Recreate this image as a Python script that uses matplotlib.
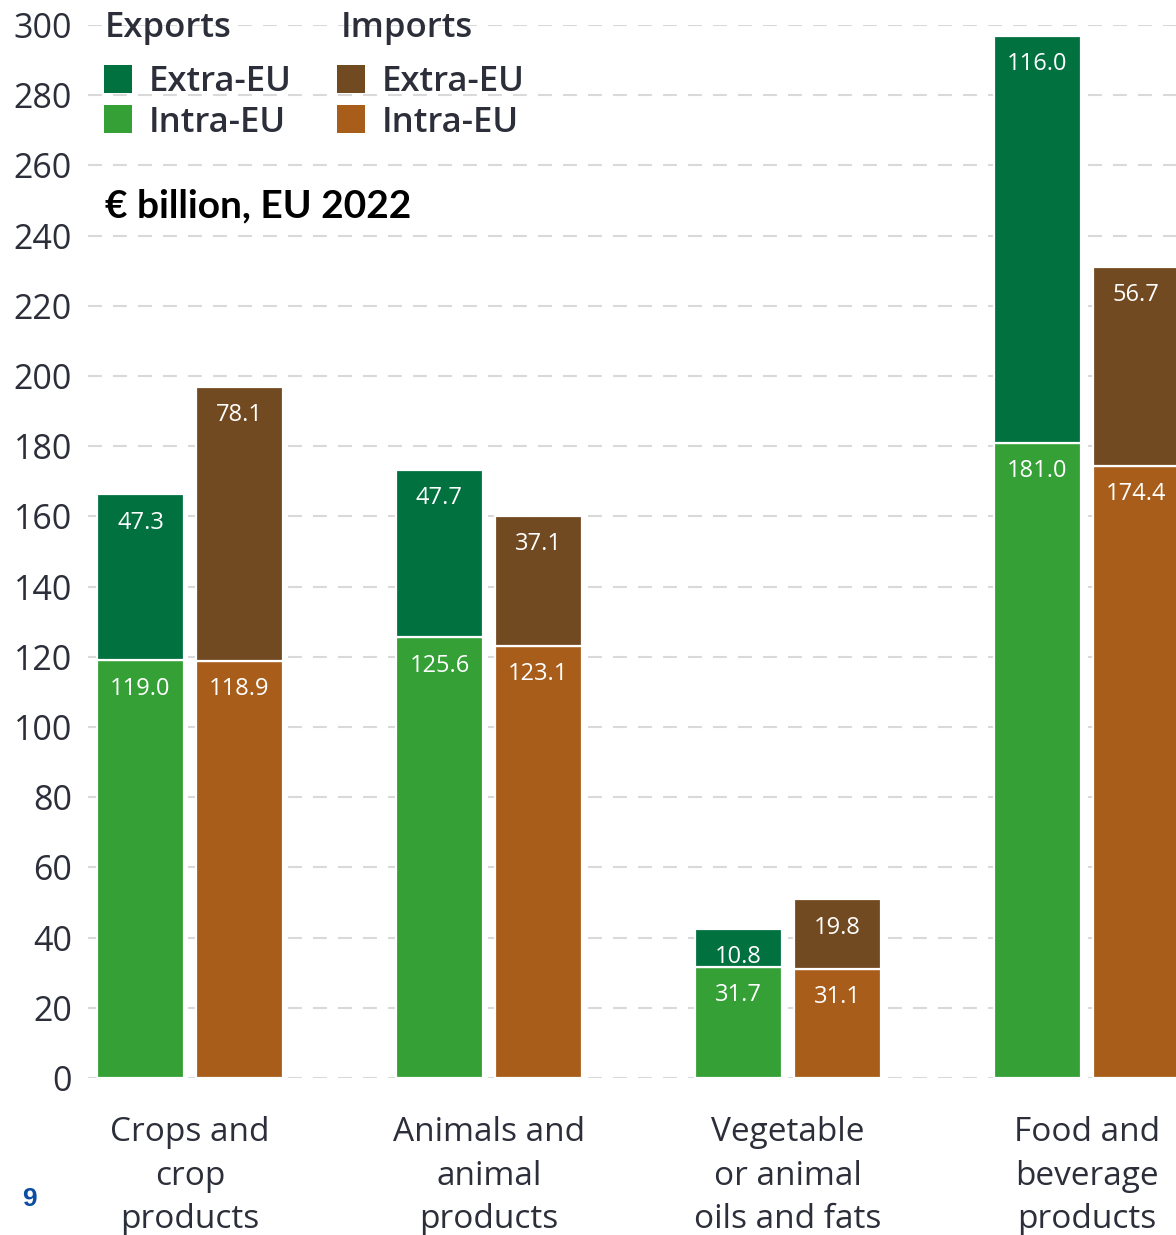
import matplotlib
matplotlib.use("Agg")
import matplotlib.pyplot as plt
import matplotlib.patches as mpatches
import numpy as np

# ---- data (EUR billion, EU 2022) ----
categories = ["Crops and\ncrop\nproducts",
              "Animals and\nanimal\nproducts",
              "Vegetable\nor animal\noils and fats",
              "Food and\nbeverage\nproducts"]
exports_intra = [119.0, 125.6, 31.7, 181.0]
exports_extra = [47.3, 47.7, 10.8, 116.0]
imports_intra = [118.9, 123.1, 31.1, 174.4]
imports_extra = [78.1, 37.1, 19.8, 56.7]
yticks = list(range(0, 301, 20))

# ---- style ----
DARK_GREEN = "#00713F"
LIGHT_GREEN = "#34A035"
DARK_BROWN = "#724A21"
ORANGE = "#A85E1A"
TEXT = "#2C2F3A"
GRID = "#D9D9D9"

plt.rcParams["font.family"] = ["Open Sans", "DejaVu Sans"]
plt.rcParams["lines.scale_dashes"] = False

W, H = 1176, 1235
fig = plt.figure(figsize=(W / 100, H / 100), dpi=100)
fig.patch.set_facecolor("white")


def fx(x):
    return x / W


def fy(y):
    return 1 - y / H


ax = fig.add_axes([fx(88), fy(1078), 1 - fx(88), fy(25) - fy(1078)])

x = np.arange(len(categories))
width = 0.291
off = 0.1655

bar_kw = dict(width=width, edgecolor="white", linewidth=1.6, zorder=3)
ax.bar(x - off, exports_intra, color=LIGHT_GREEN, **bar_kw)
ax.bar(x - off, exports_extra, bottom=exports_intra, color=DARK_GREEN, **bar_kw)
ax.bar(x + off, imports_intra, color=ORANGE, **bar_kw)
ax.bar(x + off, imports_extra, bottom=imports_intra, color=DARK_BROWN, **bar_kw)

# value labels near the top of each segment
label_kw = dict(textcoords="offset points", ha="center", va="center",
                color="white", fontsize=17, fontweight="medium", zorder=5,
                annotation_clip=False)
for i in range(len(categories)):
    for xc, lo, hi in ((x[i] - off, exports_intra[i], exports_extra[i]),
                       (x[i] + off, imports_intra[i], imports_extra[i])):
        ax.annotate(f"{lo:.1f}", xy=(xc, lo), xytext=(0, -20.5), **label_kw)
        ax.annotate(f"{hi:.1f}", xy=(xc, lo + hi), xytext=(0, -20.5), **label_kw)

ax.set_xlim(-0.341, 3.298)
ax.set_ylim(0, 300)
ax.set_yticks(yticks)
ax.set_yticklabels([str(t) for t in yticks])
ax.tick_params(axis="y", length=0, pad=11.5, labelsize=24.5, labelcolor=TEXT)
ax.tick_params(axis="x", length=0, labelbottom=False)
for s in ax.spines.values():
    s.set_visible(False)
ax.yaxis.grid(True, color=GRID, linewidth=1.5, linestyle=(0, (10, 8)), zorder=0)
ax.set_axisbelow(True)

# category labels
for i, lab in enumerate(categories):
    ax.text(x[i], (1078 - 1116) / 1053, lab, transform=ax.get_xaxis_transform(),
            ha="center", va="top", fontsize=24, color=TEXT,
            linespacing=1.43, multialignment="center")

# legend
fig.text(fx(105), fy(37), "Exports", fontsize=25, fontweight="semibold",
         color=TEXT, va="baseline", ha="left")
fig.text(fx(341), fy(37), "Imports", fontsize=25, fontweight="semibold",
         color=TEXT, va="baseline", ha="left")
legend_items = [
    (104, 65, DARK_GREEN, 149, 91, "Extra-EU"),
    (104, 105, LIGHT_GREEN, 149, 132, "Intra-EU"),
    (337, 65, DARK_BROWN, 382, 91, "Extra-EU"),
    (337, 105, ORANGE, 382, 132, "Intra-EU"),
]
for sx, sy, col, tx, ty, txt in legend_items:
    fig.patches.append(mpatches.Rectangle((fx(sx), fy(sy + 28)), 28 / W, 28 / H,
                                          transform=fig.transFigure,
                                          facecolor=col, edgecolor="none"))
    fig.text(fx(tx), fy(ty), txt, fontsize=25, fontweight="semibold",
             color=TEXT, va="baseline", ha="left")

fig.text(fx(105), fy(217), "€ billion, EU 2022", fontsize=28, fontweight="bold",
         color="black", va="baseline", ha="left", family=["Lato", "DejaVu Sans"])

fig.text(fx(22), fy(1206), "9", fontsize=19, fontweight="bold",
         color="#0B4EA2", va="baseline", ha="left",
         family=["Liberation Sans", "DejaVu Sans"])

fig.savefig("out.png", dpi=100, facecolor="white")
